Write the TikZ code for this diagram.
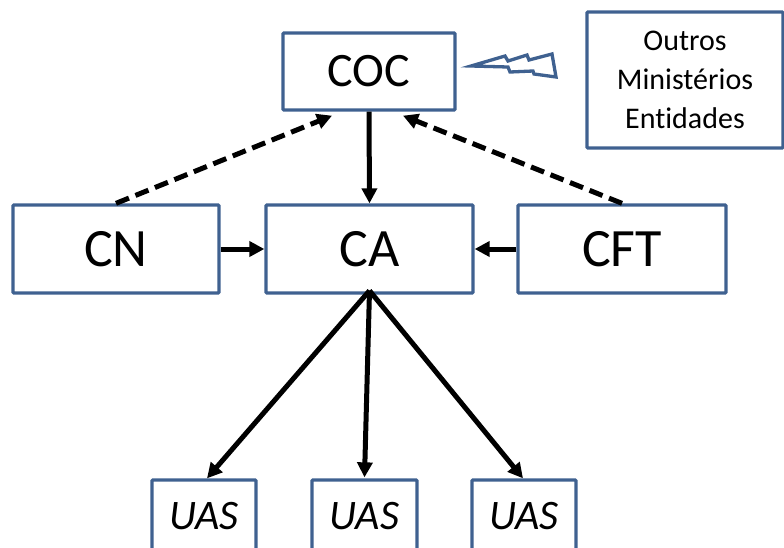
\documentclass[tikz,border=0pt]{standalone}
\usepackage{fontspec}
\setmainfont{Carlito}[Ligatures=NoCommon]
\usetikzlibrary{arrows.meta}
\definecolor{boxblue}{HTML}{3F6190}
\tikzset{
  blk/.style={draw=boxblue, line width=3.3pt, fill=white, rounded corners=1pt, inner sep=0pt, align=center},
  arr/.style={line width=5pt, -{Triangle[length=15pt,width=15pt]}},
  darr/.style={arr, dash pattern=on 14pt off 7pt},
}
\begin{document}
\begin{tikzpicture}[x=1pt,y=-1pt]
\useasboundingbox (0,0) rectangle (784,547);
\clip (0,0) rectangle (784,547);
\node[blk, minimum width=172pt, minimum height=77pt, font=\fontsize{48}{52}\selectfont] (COC) at (369,71.5) {COC};
\node[blk, minimum width=196pt, minimum height=136pt, font=\fontsize{30}{39}\selectfont] (OUT) at (685,80) {Outros\\Ministérios\\Entidades};
\node[blk, minimum width=206pt, minimum height=88pt, font=\fontsize{54}{58}\selectfont] (CN) at (116,249) {CN};
\node[blk, minimum width=207pt, minimum height=88pt, font=\fontsize{54}{58}\selectfont] (CA) at (369.5,249) {CA};
\node[blk, minimum width=208pt, minimum height=88pt, font=\fontsize{54}{58}\selectfont] (CFT) at (622,249) {CFT};
\node[blk, minimum width=104pt, minimum height=72pt, font=\fontsize{42}{46}\selectfont\itshape] (U1) at (204,516) {UAS};
\node[blk, minimum width=105pt, minimum height=72pt, font=\fontsize{42}{46}\selectfont\itshape] (U2) at (364.5,516) {UAS};
\node[blk, minimum width=104pt, minimum height=72pt, font=\fontsize{42}{46}\selectfont\itshape] (U3) at (524,516) {UAS};
% lightning
\draw[boxblue, line width=3.3pt, line join=miter, fill=white]
  (471,66) -- (505,56) -- (508,61) -- (527,55) -- (529,60) -- (552,54) -- (556,77)
  -- (534,74) -- (533,71) -- (510,72) -- (508,67) -- cycle;
% connectors
\draw[arr] (COC.south) -- (CA.north);
\draw[arr] (CN.east) -- (CA.west);
\draw[arr] (CFT.west) -- (CA.east);
\draw[darr] (CN.north) -- ([xshift=-37pt,yshift=-4pt]COC.south);
\draw[darr] (CFT.north) -- ([xshift=34pt,yshift=-4pt]COC.south);
\draw[arr] ([yshift=4pt]CA.south) -- ([xshift=3pt]U1.north);
\draw[arr] ([yshift=4pt]CA.south) -- ([yshift=1pt]U2.north);
\draw[arr] ([yshift=4pt]CA.south) -- ([xshift=-1pt]U3.north);
\end{tikzpicture}
\end{document}
